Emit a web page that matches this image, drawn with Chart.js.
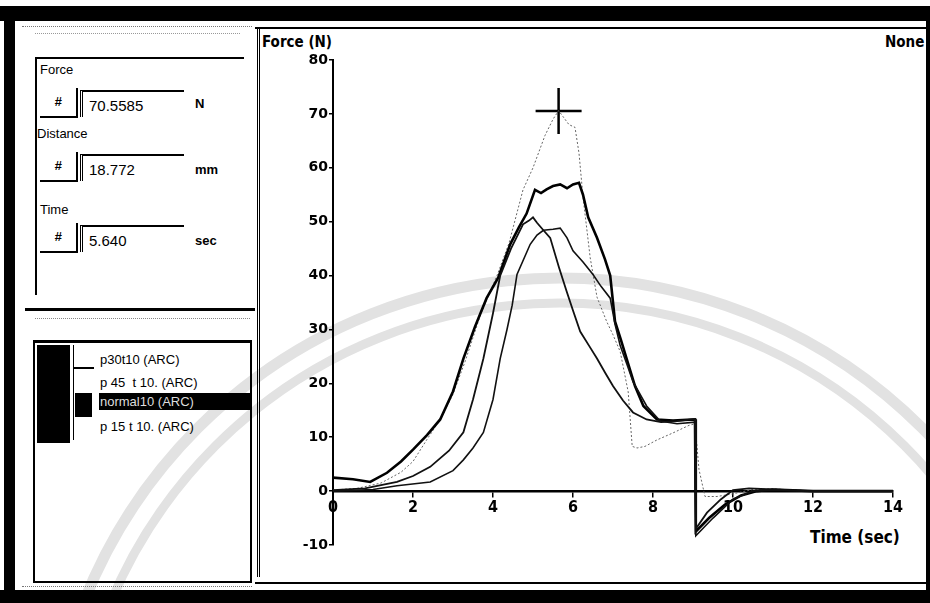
<!DOCTYPE html>
<html>
<head>
<meta charset="utf-8">
<script src="https://cdn.jsdelivr.net/npm/chart.js@4.4.0/dist/chart.umd.min.js"></script>
<style>
  body { margin: 0; background: #fff; }
  #page { position: relative; width: 930px; height: 603px; overflow: hidden; background: #fff;
          font-family: "Liberation Sans", Arial, sans-serif; color: #000; }
  .abs { position: absolute; }
  .blk { position: absolute; background: #000; }
  .narrow { font-family: "DejaVu Sans", sans-serif; font-stretch: condensed; font-weight: bold; }
  .lbl { position: absolute; font-size: 13px; }
  .btn { position: absolute; width: 36px; height: 28px; border-right: 2px solid #000; border-bottom: 2px solid #000;
         font-size: 13px; font-weight: bold; font-style: italic; text-align: center; line-height: 28px; }
  .fld { position: absolute; width: 104px; height: 27px; border-left: 3px double #000; border-top: 2px solid #000;
         font-size: 15px; line-height: 28px; padding-left: 6px; box-sizing: border-box; }
  .unit { position: absolute; font-size: 13px; font-weight: bold; }
  .item { position: absolute; left: 100px; font-size: 13px; white-space: nowrap; }
  #seal { position: absolute; left: 0; top: 0; }
  #chart { position: absolute; left: 0; top: 0; }
</style>
</head>
<body>
<div id="page">
  <!-- faint watermark arcs of the scan -->
  <svg id="seal" width="930" height="603">
    <circle cx="560" cy="790" r="512" fill="none" stroke="#e2e2e2" stroke-width="11"/>
    <circle cx="560" cy="790" r="487" fill="none" stroke="#e2e2e2" stroke-width="9"/>
  </svg>

  <!-- scan frame -->
  <div class="blk" style="left:0;top:6px;width:930px;height:15px"></div>
  <div class="blk" style="left:4px;top:6px;width:11px;height:597px"></div>
  <div class="blk" style="left:0;top:590px;width:930px;height:13px"></div>
  <div class="blk" style="left:926px;top:6px;width:4px;height:597px"></div>

  <!-- left panel -->
  <div class="abs" style="left:22px;top:26px;width:230px;border-top:1px dotted #777"></div>
  <div class="abs" style="left:35px;top:33px;width:205px;border-top:1px dotted #999"></div>
  <div class="abs" style="left:35px;top:57px;width:207px;height:236px;border-top:2px solid #000;border-left:2px solid #000"></div>

  <div class="lbl" style="left:40px;top:62px">Force</div>
  <div class="btn" style="left:40px;top:88px">#</div>
  <div class="fld" style="left:80px;top:90px">70.5585</div>
  <div class="unit" style="left:195px;top:96px">N</div>

  <div class="lbl" style="left:37px;top:126px">Distance</div>
  <div class="btn" style="left:40px;top:152px">#</div>
  <div class="fld" style="left:80px;top:154px">18.772</div>
  <div class="unit" style="left:195px;top:162px">mm</div>

  <div class="lbl" style="left:40px;top:202px">Time</div>
  <div class="btn" style="left:40px;top:223px">#</div>
  <div class="fld" style="left:80px;top:225px">5.640</div>
  <div class="unit" style="left:195px;top:233px">sec</div>

  <div class="abs" style="left:25px;top:308px;width:230px;height:3px;background:#000"></div>
  <div class="abs" style="left:35px;top:318px;width:215px;border-top:1px dotted #888"></div>

  <div class="abs" style="left:33px;top:340px;width:215px;height:238px;border:2px solid #000;border-top-width:3px"></div>
  <div class="blk" style="left:37px;top:345px;width:33px;height:98px"></div>
  <div class="abs" style="left:73px;top:345px;height:95px;border-left:1px solid #000"></div>
  <div class="abs" style="left:74px;top:367px;width:20px;border-top:2px solid #000"></div>
  <div class="blk" style="left:75px;top:393px;width:17px;height:24px"></div>
  <div class="item" style="top:352px">p30t10 (ARC)</div>
  <div class="item" style="top:375px">p 45&nbsp; t 10. (ARC)</div>
  <div class="blk" style="left:99px;top:393px;width:151px;height:17px"></div>
  <div class="item" style="top:394px;color:#ddd">normal10 (ARC)</div>
  <div class="item" style="top:419px">p 15 t 10. (ARC)</div>
  <div class="abs" style="left:22px;top:586px;width:230px;border-top:1px dotted #777"></div>

  <!-- chart panel frame -->
  <div class="abs" style="left:255px;top:27px;width:671px;border-top:2px solid #000"></div>
  <div class="abs" style="left:257px;top:27px;height:550px;border-left:3px double #000"></div>
  <div class="abs" style="left:255px;top:582px;width:671px;border-top:2px solid #000"></div>
  <div class="abs narrow" style="left:262px;top:33px;font-size:15px">Force (N)</div>
  <div class="abs narrow" style="left:885px;top:33px;font-size:15px">None</div>
  <div class="abs narrow" style="left:810px;top:527px;font-size:17px">Time (sec)</div>

  <canvas id="chart" width="930" height="603"></canvas>
</div>

<script>
// normal10 (ARC) - selected curve, drawn dotted
const timeNormal = [0, 0.6, 1.2, 1.7, 2.0, 2.35, 2.7, 3.0, 3.3, 3.7, 4.1, 4.4, 4.75, 5.0, 5.3, 5.5, 5.64, 5.75, 5.9, 6.05, 6.15, 6.25, 6.43, 6.6, 6.84, 7.0, 7.18, 7.38, 7.48, 7.6, 7.8, 8.1, 8.5, 8.9, 9.05, 9.15, 9.3, 9.6, 10.0, 10.5, 11.0, 12.0, 13.0, 14.0];
const forceNormal = [0.2, 0.5, 1.5, 3.5, 5.5, 9.6, 13.5, 18, 24, 33, 40, 46, 55.9, 60, 66, 69, 70.6, 69.5, 68, 67.5, 62.7, 54.6, 43.3, 36, 31.5, 29, 25.9, 18.4, 8.3, 8.0, 8.3, 9.5, 10.8, 12.2, 12.5, 4, -1, -1, -0.5, 0.3, 0.4, 0, 0, 0];

// p30t10 (ARC)
const timeP30 = [0, 0.5, 0.93, 1.35, 1.7, 2.0, 2.35, 2.68, 3.0, 3.26, 3.55, 3.84, 4.13, 4.43, 4.65, 4.84, 5.05, 5.2, 5.34, 5.5, 5.68, 5.85, 6.0, 6.15, 6.25, 6.38, 6.6, 6.8, 6.93, 7.05, 7.2, 7.34, 7.55, 7.76, 8.1, 8.5, 9.05, 9.07, 9.4, 9.8, 10.2, 10.6, 11.0, 12.0, 13.0, 14.0];
const forceP30 = [2.5, 2.2, 1.7, 3.4, 5.5, 7.7, 10.4, 13.3, 18.5, 24.6, 30.5, 35.8, 39.6, 45.8, 49, 51.5, 55.9, 55.3, 56, 56.6, 56.9, 56.2, 56.9, 57.2, 55, 50.8, 47, 43, 40, 31.5, 28, 24.6, 19.5, 15.8, 13.3, 13.1, 13.3, -7.5, -5, -2.5, -0.8, 0, 0.3, 0, 0, 0];

// p 45 t 10. (ARC)
const timeP45 = [0, 0.8, 1.6, 2.0, 2.43, 2.9, 3.26, 3.5, 3.76, 4.0, 4.18, 4.45, 4.75, 4.9, 5.0, 5.1, 5.25, 5.43, 5.65, 5.84, 6.0, 6.18, 6.4, 6.6, 6.8, 7.0, 7.25, 7.5, 7.84, 8.2, 8.6, 9.05, 9.07, 9.35, 9.7, 10.0, 10.4, 11.0, 12.0, 13.0, 14.0];
const forceP45 = [0.2, 0.5, 1.7, 2.8, 4.5, 7.5, 10.9, 17, 24.6, 33, 40, 45, 49.5, 50.2, 50.8, 49.8, 48.5, 47, 41.5, 37.1, 33.5, 29.6, 27, 24.6, 22, 19.5, 16.8, 14.6, 13.3, 12.8, 13, 13.4, -7, -4, -1.5, 0.2, 0.5, 0.3, 0, 0, 0];

// p 15 t 10. (ARC)
const timeP15 = [0, 1.0, 1.6, 2.43, 3.0, 3.26, 3.5, 3.76, 4.0, 4.18, 4.35, 4.48, 4.6, 4.93, 5.1, 5.26, 5.5, 5.68, 5.85, 6.0, 6.25, 6.5, 6.7, 6.93, 7.05, 7.18, 7.35, 7.5, 7.84, 8.18, 8.6, 9.05, 9.07, 9.5, 10.0, 10.5, 11.0, 12.0, 13.0, 14.0];
const forceP15 = [0, 0.3, 1.0, 1.7, 3.8, 5.8, 8, 10.9, 17, 24.6, 30, 34.5, 40.2, 45.8, 47.5, 48.4, 48.6, 48.8, 47, 44.6, 42.5, 40.2, 38, 35.8, 31, 27, 23.5, 20.3, 15.8, 13, 12.5, 12.8, -8.3, -5, -1.5, 0, 0.2, 0, 0, 0];

// cursor read-out
const cursorTime = [5.64];
const cursorForce = [70.5585];

const xTicks = [0, 2, 4, 6, 8, 10, 12, 14];
const yTicks = [-10, 0, 10, 20, 30, 40, 50, 60, 70, 80];

function toPoints(times, forces) {
    return times.map((t, i) => ({ x: t, y: forces[i] }));
}

Chart.defaults.font.family = "'DejaVu Sans', sans-serif";
Chart.defaults.color = '#000';

// tick labels in the original are a narrow face
const narrowText = {
    id: 'narrowText',
    beforeDraw(chart) { chart.ctx.fontStretch = 'condensed'; }
};

const ctx = document.getElementById('chart').getContext('2d');
new Chart(ctx, {
    type: 'line',
    data: {
        datasets: [
            { label: 'p15t10', data: toPoints(timeP15, forceP15), borderColor: '#111', borderWidth: 1.6 },
            { label: 'p45t10', data: toPoints(timeP45, forceP45), borderColor: '#111', borderWidth: 1.8 },
            { label: 'p30t10', data: toPoints(timeP30, forceP30), borderColor: '#000', borderWidth: 2.6 },
            { label: 'normal10', data: toPoints(timeNormal, forceNormal), borderColor: '#666', borderWidth: 1, borderDash: [2, 2] },
            {
                label: 'cursor', data: toPoints(cursorTime, cursorForce), showLine: false,
                pointStyle: 'cross', pointRadius: 23, borderColor: '#000', borderWidth: 2.5
            }
        ]
    },
    plugins: [narrowText],
    options: {
        responsive: false,
        animation: false,
        layout: { padding: { left: 293, right: 37, top: 60, bottom: 58 } },
        elements: { point: { radius: 0 }, line: { tension: 0 } },
        plugins: { legend: { display: false }, tooltip: { enabled: false } },
        scales: {
            x: {
                type: 'linear', min: 0, max: 14,
                position: { y: 0 },
                afterBuildTicks: (scale) => { scale.ticks = xTicks.map(v => ({ value: v })); },
                grid: { drawOnChartArea: false, drawTicks: true, tickLength: 5, color: '#000', lineWidth: 1.5 },
                border: { display: true, color: '#000', width: 2.5 },
                ticks: { font: { size: 16, weight: 'bold' }, padding: 2, maxRotation: 0 }
            },
            y: {
                type: 'linear', min: -10, max: 80,
                afterFit: (scale) => { scale.width = 40; },
                afterBuildTicks: (scale) => { scale.ticks = yTicks.map(v => ({ value: v })); },
                grid: { drawOnChartArea: false, drawTicks: true, tickLength: 4, color: '#000', lineWidth: 1.5 },
                border: { display: true, color: '#000', width: 2 },
                ticks: { font: { size: 14, weight: 'bold' }, padding: 1 }
            }
        }
    }
});
</script>
</body>
</html>
